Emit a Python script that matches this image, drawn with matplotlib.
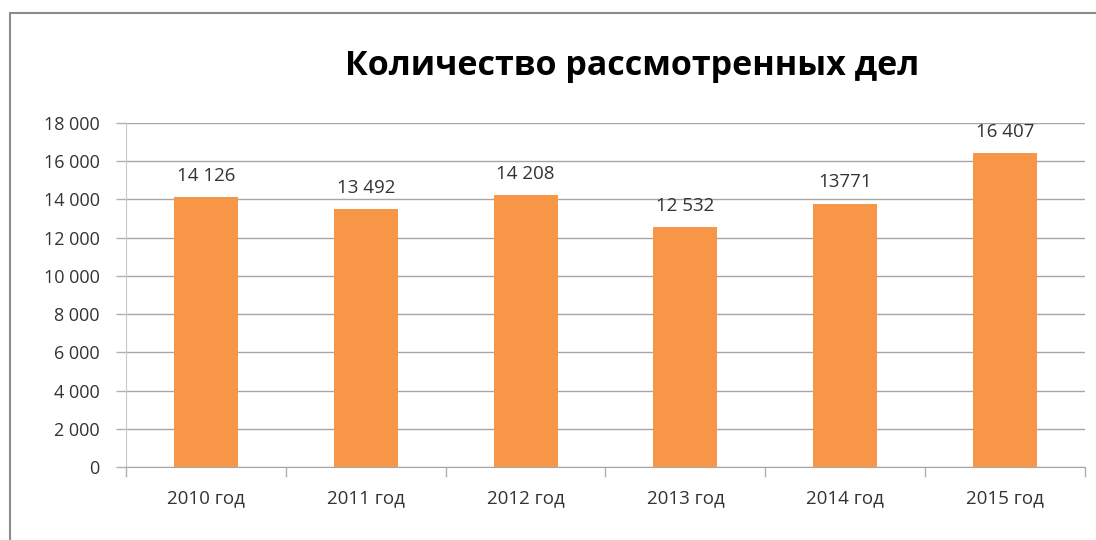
import matplotlib
matplotlib.use("Agg")
import matplotlib.pyplot as plt
from matplotlib.patches import Rectangle
from matplotlib.ticker import FixedLocator

categories = ["2010 год", "2011 год", "2012 год", "2013 год", "2014 год", "2015 год"]
values = [14126, 13492, 14208, 12532, 13771, 16407]
value_labels = ["14 126", "13 492", "14 208", "12 532", "13771", "16 407"]
yticks = [0, 2000, 4000, 6000, 8000, 10000, 12000, 14000, 16000, 18000]
ytick_labels = ["0", "2 000", "4 000", "6 000", "8 000", "10 000", "12 000", "14 000", "16 000", "18 000"]
title = "Количество рассмотренных дел"

plt.rcParams['font.family'] = ['Open Sans', 'DejaVu Sans']

W, H = 1096, 540
fig = plt.figure(figsize=(W / 100, H / 100), dpi=100)
fig.patch.set_facecolor("white")

# outer chart frame
fig.patches.append(Rectangle((10 / W, -0.1), 1.2, (H - 13) / H + 0.1, transform=fig.transFigure,
                             fill=False, edgecolor="#8c8c8c", linewidth=1.5))

ax = fig.add_axes([126 / W, 1 - 467 / H, (1085 - 126) / W, (467 - 123) / H])
x = list(range(len(categories)))
ax.bar(x, values, width=0.4, color="#F79646", zorder=3)
ax.set_xlim(-0.5, len(categories) - 0.5)
ax.set_ylim(0, 18000)
ax.set_yticks(yticks)
ax.set_yticklabels(ytick_labels)
ax.set_xticks(x)
ax.set_xticklabels(categories)
ax.xaxis.set_minor_locator(FixedLocator([i + 0.5 for i in range(-1, len(categories))]))
ax.tick_params(axis='x', which='major', length=0, pad=16, labelsize=13.5, labelcolor="#333333")
ax.tick_params(axis='x', which='minor', length=7, color="#b0b0b0", width=1)
ax.tick_params(axis='y', length=7, color="#b0b0b0", width=1, pad=12, labelsize=13, labelcolor="#333333")
ax.grid(axis='y', color="#a6a6a6", linewidth=1, zorder=0)
for side in ["top", "right"]:
    ax.spines[side].set_visible(False)
ax.spines["left"].set_color("#c8c8c8")
ax.spines["bottom"].set_color("#a6a6a6")

for xi, v, lab in zip(x, values, value_labels):
    ax.annotate(lab, (xi, v), xytext=(0, 9), textcoords="offset points", ha="center", va="bottom",
                fontsize=13.5, color="#333333")

fig.text(632 / W, 1 - 66 / H, title, ha="center", va="center", fontsize=24.5, fontweight="bold", color="black")

fig.savefig("out.png", dpi=100)
